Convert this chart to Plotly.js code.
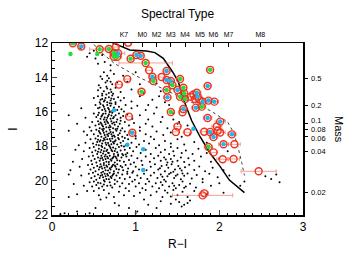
<!DOCTYPE html>
<html><head><meta charset="utf-8">
<script src="https://cdn.plot.ly/plotly-3.0.1.min.js"></script>
<style>html,body{margin:0;padding:0;background:#fff}#p{width:358px;height:256px}</style>
</head><body><div id="p"></div>
<script>
// field stars (R-I, I)
const fieldPts = [
[0.45,12.6],[0.52,12.9],[0.6,12.7],[0.63,13.1],[0.42,12.8],[0.7,13.3],[0.55,13.2],[0.34,12.3],[0.5,12.45],
[0.62,13.7],[0.66,13.9],[0.7,13.6],[0.58,13.95],[0.74,13.8],[0.85,13.9],[1.0,13.7],
[0.6,14.1],[0.64,14.3],[0.68,14.05],[0.72,14.4],[0.56,14.45],[0.66,14.2],[0.78,14.3],[0.9,14.25],[1.05,14.4],[1.25,14.35],[0.7,14.25],
[0.58,14.6],[0.62,14.8],[0.65,14.55],[0.68,14.9],[0.7,14.7],[0.73,14.95],[0.6,14.95],[0.76,14.6],[0.82,14.85],[0.95,14.7],[1.1,14.9],[1.3,14.8],[0.55,14.75],[0.66,14.65],[0.71,14.85],
[0.55,15.1],[0.58,15.3],[0.6,15.05],[0.62,15.4],[0.64,15.2],[0.66,15.45],[0.68,15.15],[0.7,15.35],[0.72,15.05],[0.74,15.25],[0.76,15.45],[0.79,15.15],[0.82,15.35],[0.6,15.25],[0.65,15.0],[0.69,15.5],[0.57,15.45],[0.86,15.2],[0.95,15.4],[1.05,15.1],[1.2,15.3],[1.35,15.45],[0.5,15.2],[0.71,15.22],[0.63,15.33],[1.28,15.1],
[0.52,15.6],[0.55,15.8],[0.58,15.55],[0.6,15.9],[0.62,15.7],[0.64,15.95],[0.66,15.6],[0.68,15.85],[0.7,15.65],[0.72,15.95],[0.74,15.75],[0.76,15.55],[0.78,15.9],[0.8,15.7],[0.83,15.85],[0.57,15.75],[0.61,15.62],[0.67,15.78],[0.71,15.52],[0.75,15.88],[0.88,15.6],[0.95,15.8],[1.02,15.65],[1.12,15.9],[1.25,15.75],[1.4,15.6],[0.35,15.8],[0.63,15.83],[0.69,15.97],[0.86,15.98],[1.15,15.6],
[0.5,16.1],[0.53,16.3],[0.56,16.05],[0.58,16.4],[0.6,16.2],[0.62,16.45],[0.64,16.1],[0.66,16.35],[0.68,16.15],[0.7,16.4],[0.72,16.05],[0.74,16.3],[0.76,16.2],[0.78,16.45],[0.8,16.1],[0.82,16.35],[0.85,16.25],[0.59,16.28],[0.65,16.48],[0.69,16.02],[0.73,16.38],[0.61,16.12],[0.67,16.25],[0.71,16.22],[0.9,16.15],[0.96,16.4],[1.05,16.2],[1.15,16.45],[1.22,16.1],[1.32,16.3],[1.45,16.45],[0.4,16.35],[0.2,16.2],[0.55,16.18],[0.63,16.33],[1.45,16.1],
[0.48,16.6],[0.52,16.8],[0.55,16.55],[0.57,16.95],[0.59,16.7],[0.61,16.85],[0.63,16.6],[0.65,16.9],[0.67,16.65],[0.69,16.8],[0.71,16.55],[0.73,16.95],[0.75,16.75],[0.77,16.6],[0.79,16.85],[0.81,16.7],[0.84,16.95],[0.87,16.6],[0.6,16.78],[0.64,16.72],[0.68,16.92],[0.72,16.68],[0.66,16.58],[0.7,16.88],[0.74,16.62],[0.56,16.72],[0.62,16.98],[0.92,16.8],[0.98,16.65],[1.05,16.9],[1.12,16.7],[1.2,16.85],[1.3,16.6],[1.38,16.95],[1.5,16.7],[0.45,16.9],[0.3,16.7],[0.78,16.98],[0.82,16.52],[0.58,16.62],[1.52,16.6],[1.62,16.8],
[0.47,17.1],[0.5,17.3],[0.53,17.05],[0.55,17.4],[0.57,17.2],[0.59,17.45],[0.61,17.1],[0.63,17.35],[0.65,17.15],[0.67,17.4],[0.69,17.05],[0.71,17.3],[0.73,17.2],[0.75,17.45],[0.77,17.1],[0.79,17.35],[0.81,17.25],[0.84,17.45],[0.87,17.15],[0.9,17.35],[0.58,17.28],[0.62,17.22],[0.66,17.32],[0.7,17.18],[0.74,17.38],[0.64,17.48],[0.68,17.26],[0.72,17.42],[0.6,17.02],[0.94,17.2],[1.0,17.4],[1.05,17.1],[1.12,17.3],[1.18,17.45],[1.25,17.15],[1.33,17.35],[1.42,17.2],[1.55,17.45],[1.65,17.3],[0.42,17.35],[0.38,17.15],[0.2,17.1],[0.76,17.02],[0.82,17.08],[0.56,17.12],
[0.46,17.6],[0.49,17.85],[0.52,17.55],[0.54,17.75],[0.56,17.95],[0.58,17.65],[0.6,17.85],[0.62,17.55],[0.64,17.8],[0.66,17.6],[0.68,17.95],[0.7,17.7],[0.72,17.55],[0.74,17.85],[0.76,17.65],[0.78,17.9],[0.8,17.6],[0.82,17.8],[0.85,17.7],[0.88,17.95],[0.91,17.6],[0.57,17.72],[0.61,17.68],[0.65,17.92],[0.69,17.58],[0.73,17.76],[0.63,17.62],[0.67,17.82],[0.71,17.88],[0.75,17.72],[0.59,17.98],[0.55,17.62],[0.95,17.8],[1.0,17.55],[1.04,17.9],[1.1,17.7],[1.16,17.85],[1.22,17.6],[1.28,17.95],[1.35,17.7],[1.42,17.85],[1.5,17.6],[1.58,17.9],[1.7,17.75],[0.4,17.8],[0.32,17.95],[0.79,17.52],[0.83,17.98],[0.87,17.52],[0.53,17.92],[1.85,17.8],
[0.45,18.1],[0.48,18.35],[0.5,18.05],[0.52,18.25],[0.54,18.45],[0.56,18.15],[0.58,18.35],[0.6,18.05],[0.62,18.3],[0.64,18.5],[0.66,18.2],[0.68,18.4],[0.7,18.1],[0.72,18.3],[0.74,18.45],[0.76,18.15],[0.78,18.35],[0.8,18.05],[0.82,18.25],[0.84,18.45],[0.87,18.2],[0.9,18.4],[0.93,18.1],[0.59,18.22],[0.63,18.12],[0.67,18.38],[0.71,18.22],[0.75,18.28],[0.79,18.48],[0.61,18.42],[0.65,18.28],[0.69,18.02],[0.73,18.08],[0.55,18.32],[0.97,18.3],[1.01,18.05],[1.06,18.4],[1.12,18.2],[1.18,18.45],[1.24,18.1],[1.3,18.35],[1.35,18.2],[1.4,18.45],[1.45,18.3],[1.5,18.1],[1.55,18.4],[1.6,18.25],[1.68,18.45],[1.75,18.15],[1.85,18.4],[0.38,18.3],[0.28,18.2],[0.86,18.02],[0.88,18.48],[1.42,18.05],[2.1,18.3],
[0.44,18.6],[0.47,18.85],[0.49,18.55],[0.51,18.75],[0.53,18.95],[0.55,18.65],[0.57,18.85],[0.59,18.55],[0.61,18.8],[0.63,18.6],[0.65,18.9],[0.67,18.7],[0.69,18.55],[0.71,18.85],[0.73,18.65],[0.75,18.95],[0.77,18.7],[0.79,18.55],[0.81,18.85],[0.83,18.65],[0.86,18.9],[0.89,18.6],[0.92,18.8],[0.95,18.55],[0.98,18.95],[0.58,18.72],[0.62,18.98],[0.66,18.62],[0.7,18.78],[0.74,18.58],[0.78,18.82],[0.6,18.68],[0.64,18.75],[0.68,18.92],[0.72,18.72],[0.76,18.62],[1.02,18.7],[1.07,18.85],[1.12,18.6],[1.17,18.9],[1.22,18.7],[1.27,18.55],[1.3,18.85],[1.34,18.65],[1.38,18.95],[1.42,18.75],[1.46,18.55],[1.5,18.85],[1.54,18.65],[1.58,18.92],[1.63,18.7],[1.7,18.85],[1.78,18.6],[1.9,18.9],[2.0,18.7],[0.36,18.75],[0.25,18.9],[0.85,18.52],[1.36,18.78],[1.44,18.9],
[0.43,19.1],[0.46,19.35],[0.48,19.05],[0.5,19.25],[0.52,19.45],[0.54,19.15],[0.56,19.35],[0.58,19.05],[0.6,19.3],[0.62,19.1],[0.64,19.4],[0.66,19.2],[0.68,19.05],[0.7,19.35],[0.72,19.15],[0.74,19.45],[0.76,19.2],[0.78,19.05],[0.8,19.35],[0.82,19.15],[0.85,19.4],[0.88,19.1],[0.91,19.3],[0.94,19.05],[0.97,19.45],[1.0,19.2],[0.57,19.22],[0.61,19.48],[0.65,19.12],[0.69,19.28],[0.73,19.08],[0.77,19.32],[0.59,19.18],[0.63,19.25],[0.67,19.42],[0.71,19.22],[0.75,19.12],[1.04,19.35],[1.08,19.1],[1.13,19.4],[1.18,19.2],[1.23,19.05],[1.27,19.35],[1.31,19.15],[1.35,19.45],[1.39,19.25],[1.43,19.05],[1.47,19.35],[1.51,19.15],[1.55,19.42],[1.59,19.22],[1.64,19.08],[1.7,19.38],[1.76,19.18],[1.83,19.45],[1.92,19.25],[2.05,19.4],[0.33,19.2],[0.22,19.4],[1.29,19.28],[1.37,19.1],[1.45,19.48],[1.53,19.3],[0.84,19.22],[0.9,19.48],
[0.44,19.6],[0.47,19.85],[0.49,19.55],[0.51,19.75],[0.53,19.95],[0.55,19.65],[0.57,19.85],[0.59,19.55],[0.61,19.8],[0.63,19.6],[0.65,19.9],[0.67,19.7],[0.69,19.55],[0.71,19.85],[0.73,19.65],[0.75,19.95],[0.77,19.7],[0.79,19.55],[0.81,19.85],[0.84,19.65],[0.87,19.9],[0.9,19.6],[0.93,19.8],[0.96,19.55],[0.99,19.95],[1.02,19.7],[0.58,19.72],[0.62,19.98],[0.66,19.62],[0.7,19.78],[0.74,19.58],[0.6,19.68],[0.64,19.75],[0.68,19.92],[0.72,19.72],[1.06,19.85],[1.1,19.6],[1.14,19.9],[1.18,19.7],[1.22,19.55],[1.26,19.85],[1.3,19.65],[1.34,19.95],[1.38,19.75],[1.42,19.55],[1.46,19.85],[1.5,19.65],[1.54,19.92],[1.58,19.72],[1.62,19.58],[1.67,19.88],[1.73,19.68],[1.8,19.9],[1.88,19.6],[1.98,19.8],[2.12,19.7],[0.35,19.7],[0.2,19.65],[1.32,19.78],[1.4,19.62],[1.48,19.72],[1.56,19.58],[2.55,19.75],[2.62,19.9],[2.68,19.65],
[0.45,20.1],[0.48,20.35],[0.5,20.05],[0.53,20.25],[0.56,20.45],[0.58,20.15],[0.6,20.35],[0.63,20.05],[0.66,20.3],[0.69,20.1],[0.72,20.4],[0.75,20.2],[0.78,20.05],[0.81,20.35],[0.84,20.15],[0.88,20.45],[0.92,20.2],[0.96,20.05],[1.0,20.35],[1.04,20.15],[1.08,20.45],[1.12,20.2],[1.16,20.05],[1.2,20.35],[1.24,20.15],[1.28,20.45],[1.32,20.25],[1.36,20.05],[1.4,20.35],[1.44,20.15],[1.48,20.45],[1.52,20.25],[1.56,20.05],[1.6,20.35],[1.65,20.18],[1.72,20.4],[1.8,20.1],[1.9,20.3],[2.0,20.15],[0.62,20.22],[0.7,20.28],[0.55,20.12],[1.3,20.1],[1.46,20.3],[0.38,20.3],[0.26,20.2],[2.25,20.3],[2.72,20.1],[2.3,20.05],[1.58,20.42],
[0.5,20.6],[0.56,20.85],[0.62,20.55],[0.68,20.75],[0.74,20.95],[0.8,20.65],[0.86,20.85],[0.92,20.6],[0.98,20.9],[1.05,20.7],[1.12,20.55],[1.18,20.85],[1.25,20.65],[1.32,20.95],[1.38,20.7],[1.45,20.55],[1.5,20.85],[1.56,20.65],[1.62,20.95],[1.7,20.6],[1.85,20.8],[2.05,20.7],[0.3,20.8],[0.42,20.6],[1.35,20.58],[1.42,20.92],[0.65,20.98],
[0.58,21.1],[0.75,21.3],[0.92,21.6],[1.02,21.8],[1.15,21.4],[1.3,21.2],[1.42,21.35],[1.48,21.1],[1.52,21.25],[1.58,21.4],[1.62,21.3],[1.55,21.5],[1.65,21.15],[0.52,21.6],[0.3,21.8],[0.15,21.9],[0.1,21.95],[0.45,21.9],[1.0,21.9],[0.8,21.45],[1.25,21.6],[1.1,21.1],[0.2,20.95]
];
const fieldRI = fieldPts.map(p => p[0]);
const fieldI = fieldPts.map(p => p[1]);

// candidate members (red circles) with R-I errors
const candRI  = [0.25,0.35,0.57,0.68,0.76,0.74,0.74,0.78,0.79,0.91,1.01,1.06,0.94,1.12,1.16,1.2,1.21,1.31,1.37,1.37,1.42,1.53,1.44,1.37,1.38,1.5,1.57,1.58,1.53,1.59,1.69,1.71,1.73,1.74,1.89,1.86,1.8,1.87,1.94,1.72,1.79,1.57,1.56,1.42,0.92,1.86,2.01,1.5,1.48,1.62,1.82,1.89,1.93,1.97,1.98,2.01,2.15,0.96,1.87,2.05,2.18,1.93,2.04,2.17,2.47,1.8,1.82,0.8,0.9,1.07,1.66,1.76];
const candI   = [12.02,12.2,12.36,12.35,12.23,12.58,12.8,12.8,12.6,11.98,12.7,12.74,12.92,13.16,13.59,13.96,14.21,13.98,13.63,14.15,14.21,14.09,14.46,14.73,15.16,14.73,14.6,14.93,15.12,15.26,14.99,15.26,14.89,15.12,13.56,14.5,15.41,15.35,15.41,15.76,15.7,15.84,16.03,16.01,16.28,16.36,16.57,16.86,17.17,17.19,17.16,17.17,17.47,16.86,17.1,17.2,17.31,17.22,18.05,17.89,17.89,18.36,18.76,18.74,19.46,20.86,20.74,14.42,14.1,14.83,15.12,15.28];
const candErr = [0.03,0.03,0.12,0.06,0.03,0.05,0.05,0.05,0.08,0.03,0.04,0.04,0.04,0.32,0.03,0.04,0.04,0.03,0.03,0.04,0.04,0.04,0.04,0.04,0.04,0.04,0.04,0.04,0.04,0.04,0.05,0.05,0.05,0.05,0.04,0.04,0.05,0.05,0.05,0.05,0.05,0.04,0.04,0.04,0.03,0.05,0.06,0.04,0.04,0.05,0.05,0.05,0.05,0.06,0.06,0.06,0.05,0.03,0.05,0.06,0.07,0.05,0.07,0.07,0.21,0.36,0.05,0.03,0.03,0.04,0.05,0.05];

// green and cyan markers
const greenRI = [0.25,0.57,0.68,0.74,0.74,0.78,0.94,1.12,1.21,1.53,1.44,1.37,1.57,1.58,1.53,1.59,1.89,1.79,1.42,1.87,1.07,0.22,0.54];
const greenI  = [12.02,12.36,12.35,12.58,12.8,12.8,12.92,13.16,14.21,14.09,14.46,14.73,14.6,14.93,15.12,15.26,13.56,15.7,16.01,18.05,14.83,12.64,12.64];
const cyanRI = [0.35,0.79,1.01,1.06,1.2,1.37,1.37,1.42,1.38,1.5,1.73,1.74,1.86,1.8,1.87,1.94,1.72,1.57,1.86,2.01,1.89,1.93,2.15,0.96,2.05,0.74,0.9,1.09,1.09,1.69];
const cyanI  = [12.2,12.6,12.7,12.74,13.96,13.63,14.15,14.21,15.16,14.73,14.89,15.12,14.5,15.41,15.35,15.41,15.76,15.84,16.36,16.57,17.17,17.47,17.31,17.22,17.89,15.91,17.91,18.18,19.38,16.98];

// model isochrones
const isoSolidRI = [0.72,0.93,1.13,1.23,1.33,1.44,1.51,1.56,1.62,1.67,1.77,1.89,2.01,2.12,2.3];
const isoSolidI  = [11.98,12.41,12.47,12.56,12.89,13.67,14.25,15.12,15.9,16.52,17.45,18.41,19.19,19.97,20.7];
const isoDotRI = [0.46,0.52,0.6,0.75,1.0,1.3,1.6,1.9,2.1,2.17,2.22,2.27,2.3];
const isoDotI  = [11.8,12.2,12.6,13.2,13.9,14.6,15.3,15.95,16.6,17.2,18.0,19.0,19.7];

// axis labels
const spTypes = ['K7','M0','M2','M3','M4','M5','M6','M7','M8'];
const spRI = [0.86,1.08,1.25,1.42,1.59,1.77,1.93,2.11,2.49];
const massLabels = ['0.5','0.2','0.1','0.08','0.06','0.04','0.02'];
const massI = [14.08,15.66,16.67,17.0,17.45,18.32,20.68];
const massShift = [0,0,2.5,0,-1.5,0,0];

const red = '#f0321e';
const traces = [
  {x: fieldRI, y: fieldI, mode:'markers', type:'scatter', marker:{color:'#000', size:2}, hoverinfo:'skip'},
  {x: isoDotRI, y: isoDotI, mode:'lines', type:'scatter', line:{color:'#444', width:1, dash:'dot'}},
  {x: isoSolidRI, y: isoSolidI, mode:'lines', type:'scatter', line:{color:'#000', width:1.5}},
  {x: candRI, y: candI, mode:'markers', type:'scatter',
   error_x:{type:'data', array: candErr, color:'rgba(240,120,105,0.7)', thickness:1, width:2},
   marker:{symbol:'circle-open', color:red, size:7, line:{width:1.4, color:red}}},
  {x: greenRI, y: greenI, mode:'markers', type:'scatter', marker:{color:'#22e03c', size:4.5}},
  {x: cyanRI, y: cyanI, mode:'markers', type:'scatter', marker:{color:'#25b4ea', size:4.5}},
  {x: [0,3], y:[12,22], xaxis:'x2', yaxis:'y2', mode:'markers', marker:{opacity:0}, hoverinfo:'skip'}
];
const fontF = 'Liberation Sans, Arial, sans-serif';
const annotations = massLabels.map((t, i) => ({
  text: t, xref:'paper', x:1, xshift:6, yref:'y2', y: massI[i], yshift: massShift[i],
  xanchor:'left', yanchor:'middle', showarrow:false, font:{size:7.5, family:fontF, color:'#000'}
}));
annotations.push({text:'Mass', xref:'paper', x:1, xshift:28, yref:'paper', y:0.5, xanchor:'left', yanchor:'middle',
  textangle:90, showarrow:false, font:{size:11, family:fontF, color:'#000'}});
const layout = {
  width:358, height:256, showlegend:false,
  paper_bgcolor:'#fff', plot_bgcolor:'#fff',
  margin:{l:52, r:55, t:43, b:41},
  font:{family:fontF, color:'#000', size:11},
  title:{text:'Spectral Type', font:{size:12, family:fontF, color:'#000'}, x:0.5, xref:'paper', y:0.945, yref:'container', yanchor:'middle'},
  xaxis:{range:[0,3], tickvals:[0,1,2,3], ticks:'inside', ticklen:5, tickwidth:1, showgrid:false, zeroline:false,
         showline:true, mirror:true, linecolor:'#000', linewidth:1.5, tickfont:{size:12, color:'#000'},
         minor:{dtick:0.1, ticks:'inside', ticklen:2.5, tickcolor:'#000'},
         title:{text:'R\u2212I', font:{size:12, color:'#000'}, standoff:6}},
  yaxis:{range:[22,12], tickvals:[12,14,16,18,20,22], ticks:'inside', ticklen:5, showgrid:false, zeroline:false,
         showline:true, mirror:true, linecolor:'#000', linewidth:1.5, tickfont:{size:12, color:'#000'},
         minor:{dtick:0.5, ticks:'inside', ticklen:2.5, tickcolor:'#000'},
         title:{text:'I', font:{size:12, color:'#000'}, standoff:14}},
  xaxis2:{overlaying:'x', side:'top', range:[0,3], tickvals:spRI, ticktext:spTypes, ticks:'inside', ticklen:4,
          tickcolor:'#000', ticklabelstandoff:4,
          tickangle:0, showgrid:false, zeroline:false, showline:false, tickfont:{size:7, color:'#000'}},
  yaxis2:{overlaying:'y', side:'right', anchor:'x', range:[22,12], tickvals:massI, ticks:'outside', ticklen:4,
          tickcolor:'#000', showticklabels:false, showgrid:false, zeroline:false, showline:false},
  annotations: annotations
};
Plotly.newPlot('p', traces, layout, {staticPlot:true, displayModeBar:false});
</script></body></html>
